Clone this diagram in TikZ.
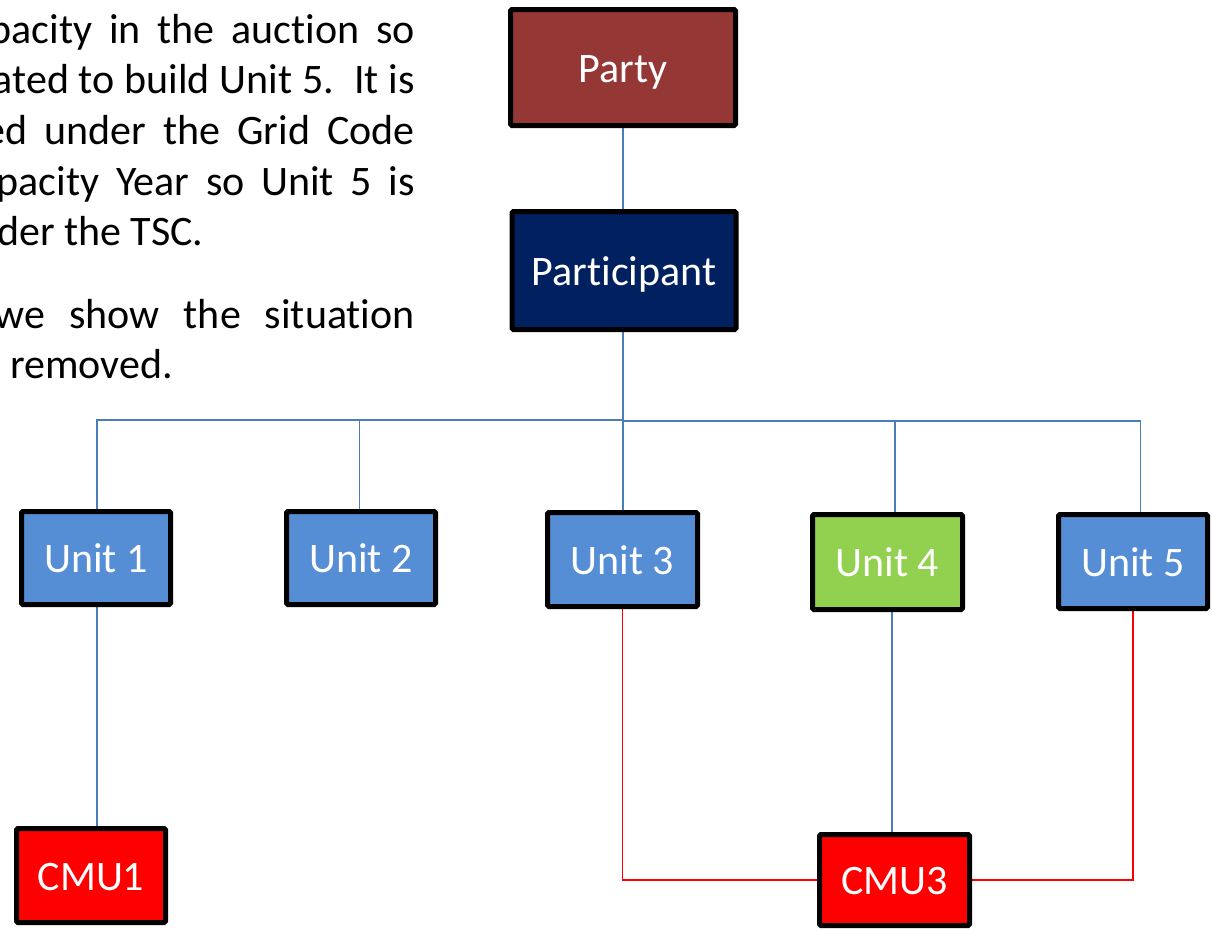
\documentclass[tikz,border=0pt]{standalone}
\usepackage{fontspec}
\setmainfont{Carlito}[Ligatures=NoCommon]
\usetikzlibrary{backgrounds}
\definecolor{partyred}{HTML}{953735}
\definecolor{navy}{HTML}{002060}
\definecolor{unitblue}{HTML}{558ED5}
\definecolor{unitgreen}{HTML}{92D050}
\definecolor{cmured}{HTML}{FF0000}
\definecolor{linkblue}{HTML}{4A7EBB}
\begin{document}
\begin{tikzpicture}[x=1pt,y=-1pt,
  box/.style={draw=black, line width=5pt, rounded corners=1.5pt, text=white,
    font=\fontsize{42}{50}\selectfont, inner sep=0pt, text height=29pt, text depth=0pt},
  link/.style={draw=linkblue, line width=1.6pt},
  redlink/.style={draw=cmured, line width=1.6pt},
  para/.style={inner sep=0pt, font=\fontsize{42}{51}\selectfont}]
\useasboundingbox (0,0) rectangle (1212,929);

% justified paragraph lines on the left
\node[para, anchor=base east] (l1) at (415,43) {\makebox[425pt][s]{pacity in the auction so}};
\node[para, anchor=base east] (l2) at (415,93) {\makebox[422pt][s]{ated to build Unit 5.\ \ It is}};
\node[para, anchor=base east] (l3) at (415,144) {\makebox[430pt][s]{ed under the Grid Code}};
\node[para, anchor=base east] (l4) at (415,195) {\makebox[418pt][s]{pacity Year so Unit 5 is}};
\node[para, anchor=base west] (l5) at (-3,245) {der the TSC.};
\node[para, anchor=base east] (l6) at (415,328) {\makebox[420pt][s]{we show the situation}};
\node[para, anchor=base west] (l7) at (10,378) {removed.};

% hierarchy boxes
\node[box, fill=partyred, minimum width=225pt, minimum height=116pt] (party) at (623,67.5) {Party};
\node[box, fill=navy, minimum width=224pt, minimum height=118pt] (participant) at (624,270.5) {Participant};
\node[box, fill=unitblue, minimum width=149pt, minimum height=93pt] (unit1) at (96,558) {Unit 1};
\node[box, fill=unitblue, minimum width=149pt, minimum height=93pt] (unit2) at (361,558) {Unit 2};
\node[box, fill=unitblue, minimum width=150pt, minimum height=94pt] (unit3) at (622.5,559.5) {Unit 3};
\node[box, fill=unitgreen, minimum width=150pt, minimum height=95pt] (unit4) at (887.5,562) {Unit 4};
\node[box, fill=unitblue, minimum width=149pt, minimum height=94pt] (unit5) at (1133,561.5) {Unit 5};
\node[box, fill=cmured, minimum width=149pt, minimum height=94pt] (cmu1) at (91,875.5) {CMU1};
\node[box, fill=cmured, minimum width=150pt, minimum height=91pt] (cmu3) at (894.5,880) {CMU3};

\coordinate (busL) at (0,420);
\coordinate (busR) at (0,421);
\coordinate (drop) at (623,0);

\begin{scope}[on background layer]
  \draw[link] (party.south -| drop) -- (participant.north -| drop);
  \draw[link] (participant.south -| drop) -- (drop |- busL) -| ([xshift=0.7pt]unit1.north);
  \draw[link] (drop |- busL) -| ([xshift=-1.7pt]unit2.north);
  \draw[link] (participant.south -| drop) -- (unit3.north -| drop);
  \draw[link] (drop |- busR) -| ([xshift=7.5pt]unit4.north);
  \draw[link] (drop |- busR) -| ([xshift=7.6pt]unit5.north);
  \draw[link] ([xshift=0.7pt]unit1.south) -- ([xshift=0.7pt]unit1.south |- cmu1.north);
  \draw[link] ([xshift=4.5pt]unit4.south) -- ([xshift=4.5pt]unit4.south |- cmu3.north);
  \draw[redlink] (unit3.south) |- (cmu3.west);
  \draw[redlink] (unit5.south) |- (cmu3.east);
\end{scope}
\end{tikzpicture}
\end{document}
